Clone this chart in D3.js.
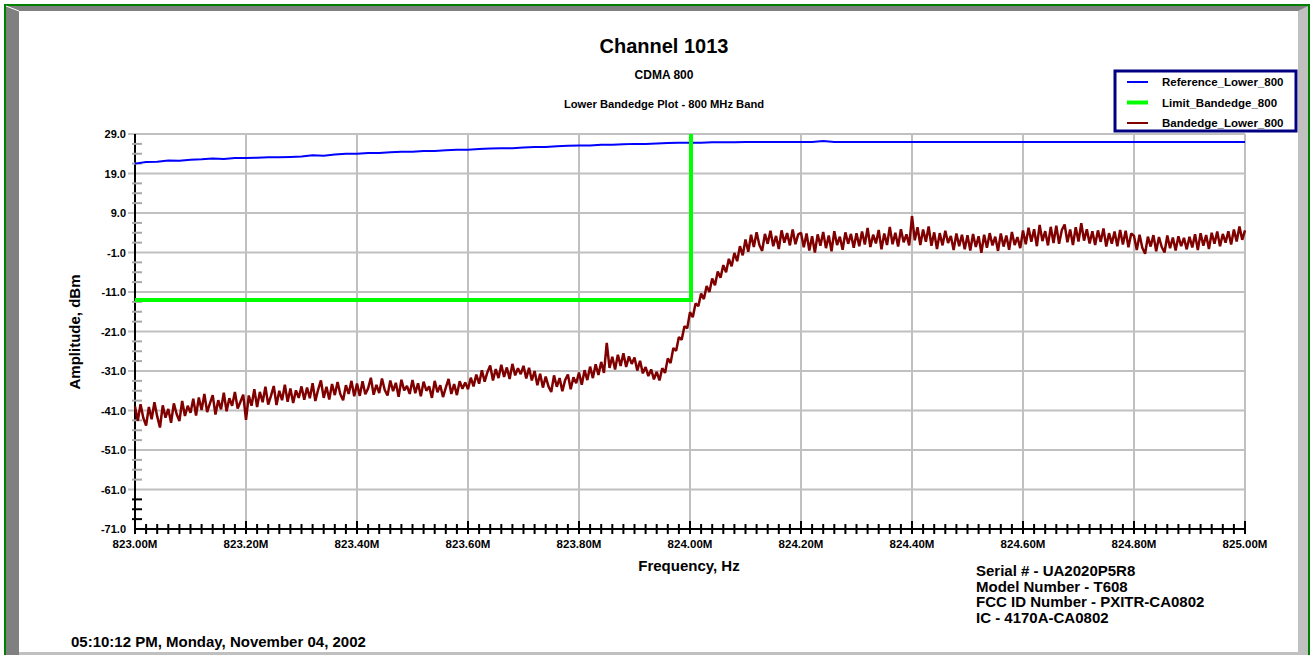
<!DOCTYPE html>
<html>
<head>
<meta charset="utf-8">
<script src="https://cdn.jsdelivr.net/npm/d3@7"></script>
<style>
body { margin: 0; background: #fff; }
svg { display: block; font-family: Arial, "Liberation Sans", sans-serif; font-weight: bold; }
</style>
</head>
<body>
<div class="content"></div>
<script>
// tick labels
var yTicks = [29, 19, 9, -1, -11, -21, -31, -41, -51, -61, -71];
var xTicks = [823.0, 823.2, 823.4, 823.6, 823.8, 824.0, 824.2, 824.4, 824.6, 824.8, 825.0];

// limit line (MHz, dBm)
var limitFreq = [823.0, 824.0, 824.0];
var limitLevel = [-13, -13, 29];

// reference trace, one reading every 0.02 MHz from 823.00
var refStep = 0.02;
var refLevel = [
  21.5, 21.9, 22.0, 22.3, 22.2, 22.5, 22.6, 22.8, 22.7, 22.9,
  22.9, 23.0, 23.1, 23.1, 23.2, 23.3, 23.6, 23.5, 23.8, 24.0,
  24.0, 24.2, 24.2, 24.4, 24.5, 24.5, 24.7, 24.7, 24.9, 25.0,
  25.0, 25.2, 25.3, 25.4, 25.4, 25.6, 25.7, 25.7, 25.9, 26.0,
  26.1, 26.1, 26.3, 26.3, 26.4, 26.5, 26.5, 26.6, 26.7, 26.8,
  26.8, 26.8, 26.9, 26.9, 26.9, 27.0, 27.0, 27.0, 27.0, 27.0,
  27.0, 27.0, 27.2, 27.0, 27.0, 27.0, 27.0, 27.0, 27.0, 27.0,
  27.0, 27.0, 27.0, 27.0, 27.0, 27.0, 27.0, 27.0, 27.0, 27.0,
  27.0, 27.0, 27.0, 27.0, 27.0, 27.0, 27.0, 27.0, 27.0, 27.0,
  27.0, 27.0, 27.0, 27.0, 27.0, 27.0, 27.0, 27.0, 27.0, 27.0,
  27.0
];

// bandedge trace, one reading every 0.005 MHz from 823.000
var bandStep = 0.005;
var bandLevel = [
  -40.0, -43.6, -39.4, -42.9, -44.8, -40.1, -43.2, -38.9, -42.5, -45.3, -39.7, -42.8, -40.6, -44.1, -39.2, -41.9, -43.7, -38.6, -42.4, -39.8,
  -41.6, -38.0, -42.3, -37.7, -40.9, -36.8, -41.4, -39.2, -37.1, -42.0, -38.4, -40.7, -36.5, -41.2, -37.9, -39.8, -36.3, -40.5, -38.8, -37.0,
  -43.4, -37.2, -39.8, -35.6, -40.1, -36.3, -38.9, -35.0, -39.5, -37.3, -34.8, -39.6, -36.0, -38.4, -34.5, -38.8, -35.4, -39.1, -35.9, -37.8,
  -34.9, -38.3, -35.2, -37.9, -34.1, -38.6, -35.7, -33.4, -37.8, -35.0, -38.2, -34.3, -37.1, -33.8, -36.9, -38.4, -34.6, -36.8, -33.5, -37.4,
  -34.2, -37.3, -33.6, -36.9, -35.4, -32.7, -37.0, -34.5, -36.6, -32.9, -35.8, -37.2, -33.4, -36.1, -34.0, -37.5, -33.2, -35.9, -34.8, -36.8,
  -33.3, -36.6, -34.1, -37.4, -33.7, -36.0, -34.9, -37.8, -33.5, -36.4, -34.6, -37.6, -35.2, -33.0, -36.8, -34.3, -37.1, -33.6, -35.5, -33.9,
  -35.6, -32.7, -34.9, -31.9, -34.2, -30.8, -33.7, -31.3, -29.6, -33.4, -30.5, -32.8, -29.4, -32.5, -30.1, -33.0, -29.2, -32.1, -30.3, -31.8,
  -29.7, -32.9, -30.2, -33.4, -31.0, -34.6, -31.7, -35.2, -32.4, -34.9, -36.3, -32.1, -35.0, -32.8, -36.1, -33.3, -31.9, -35.6, -32.6, -34.1,
  -31.4, -34.5, -30.8, -33.3, -29.9, -32.8, -29.3, -32.0, -28.7, -31.5, -23.9, -30.2, -27.4, -30.6, -26.9, -29.7, -26.5, -30.0, -27.3, -29.2,
  -27.6, -30.9, -28.4, -31.6, -30.0, -32.3, -30.6, -33.1, -31.2, -33.4, -30.3, -31.5, -27.8, -29.0, -25.2, -25.9, -22.4, -23.1, -19.7, -20.2,
  -16.1, -17.4, -13.9, -14.6, -11.4, -12.8, -9.5, -11.0, -7.6, -9.3, -5.8, -7.4, -4.2, -6.0, -2.6, -4.5, -1.1, -3.2, 0.6, -1.7,
  2.3, -0.8, 3.5, 0.4, 4.1, 0.9, -0.6, 3.7, 1.2, 4.5, 0.6, 3.2, -0.1, 4.6, 1.5, 3.9, 0.8, 4.8, 1.1, 3.6,
  4.0, 0.3, 3.8, -0.5, 3.1, -1.0, 3.6, 0.7, 4.2, 0.1, 3.3, -0.7, 4.4, 0.9, 3.0, -0.3, 4.1, 1.2, 3.7, 0.2,
  3.9, 0.6, 4.3, 1.0, 5.2, 0.4, 3.5, 1.3, 4.7, -0.2, 3.8, 0.9, 5.5, 1.1, 4.0, 0.5, 4.9, 1.6, 3.6, 0.8,
  8.2, 2.1, 5.4, 0.9, 4.8, 1.7, 5.6, 0.7, 4.1, -0.1, 3.9, 0.8, 4.5, 1.4, 3.2, -0.4, 3.8, 0.6, 3.5, -0.2,
  3.4, -0.5, 3.7, 0.4, 3.1, -1.1, 3.5, 0.2, 3.9, 0.8, 3.0, -0.6, 3.8, 0.5, 3.3, -0.3, 4.2, 0.9, 2.9, 0.1,
  4.6, 1.1, 5.3, 1.7, 4.9, 0.6, 6.0, 1.9, 4.4, 0.8, 5.5, 1.4, 5.8, 1.2, 4.7, 6.1, 1.6, 4.8, 0.9, 5.4,
  1.8, 6.4, 2.0, 4.9, 1.3, 4.4, 0.9, 4.6, 1.7, 5.1, 0.5, 3.9, 1.2, 4.3, 0.6, 4.7, 1.0, 4.5, 0.3, 3.8,
  3.2, -0.4, 3.5, 0.2, -1.3, 3.0, 0.5, 3.4, -0.7, 2.9, 0.4, -1.0, 3.3, 0.1, 2.8, -0.5, 3.1, 0.6, 2.7, -0.2,
  3.0, 0.3, 3.6, -0.4, 3.9, 0.7, 3.4, -0.1, 4.0, 1.2, 4.3, 0.6, 3.7, 1.5, 4.4, 1.0, 4.8, 1.8, 5.6, 2.2,
  4.6
];

var legendNames = ["Reference_Lower_800", "Limit_Bandedge_800", "Bandedge_Lower_800"];
var legendColors = ["#0000ff", "#00ff00", "#800000"];
var legendWidths = [2, 4, 2];

var infoLines = ["Serial # - UA2020P5R8", "Model Number - T608", "FCC ID Number - PXITR-CA0802", "IC - 4170A-CA0802"];

var W = 1312, H = 655;
var svg = d3.select(".content")
    .append("svg")
    .attr("width", W)
    .attr("height", H);

// frame: green border, gray bevel, white panel
svg.append("rect").attr("x", 0).attr("y", 0).attr("width", W).attr("height", H).attr("fill", "#fff");
svg.append("rect").attr("x", 5).attr("y", 5).attr("width", 1304).attr("height", 660)
    .attr("fill", "#c0c0c0").attr("stroke", "#008000").attr("stroke-width", 2);
svg.append("polygon").attr("points", "6,6 1308,6 1298,11 19,11").attr("fill", "#808080");
svg.append("polygon").attr("points", "6,6 19,11 19,656 6,656").attr("fill", "#808080");
svg.append("line").attr("x1", 6).attr("y1", 6).attr("x2", 19).attr("y2", 11).attr("stroke", "#fff").attr("stroke-width", 1);
svg.append("rect").attr("x", 19).attr("y", 11).attr("width", 1279).attr("height", 641).attr("fill", "#fff");

// scales
var x = d3.scaleLinear().domain([823, 825]).range([135, 1245]);
var y = d3.scaleLinear().domain([-71, 29]).range([529, 134]);

// grid
svg.append("g").selectAll("line")
    .data(yTicks.filter(function(d) { return d !== -71; }))
    .enter().append("line")
    .attr("x1", 128).attr("x2", x(825))
    .attr("y1", function(d) { return y(d); }).attr("y2", function(d) { return y(d); })
    .attr("stroke", "#c0c0c0").attr("stroke-width", 2);
svg.append("g").selectAll("line")
    .data(xTicks.filter(function(d) { return d !== 823.0; }))
    .enter().append("line")
    .attr("x1", function(d) { return x(d); }).attr("x2", function(d) { return x(d); })
    .attr("y1", y(29)).attr("y2", y(-71))
    .attr("stroke", "#c0c0c0").attr("stroke-width", 2);

// axes lines
svg.append("line").attr("x1", x(823)).attr("x2", x(823)).attr("y1", y(29)).attr("y2", y(-71))
    .attr("stroke", "#000").attr("stroke-width", 2);
svg.append("line").attr("x1", x(823)).attr("x2", x(825)).attr("y1", y(-71)).attr("y2", y(-71))
    .attr("stroke", "#000").attr("stroke-width", 2);

// y minor ticks every 2.5 dB
var yMinor = d3.range(-71, 29, 2.5).filter(function(d) { return Math.abs((d + 71) % 10) > 0.1; });
svg.append("g").selectAll("line")
    .data(yMinor)
    .enter().append("line")
    .attr("x1", 132).attr("x2", 142)
    .attr("y1", function(d) { return y(d); }).attr("y2", function(d) { return y(d); })
    .attr("stroke", function(d) { return d < -61 ? "#000" : "#a8a8a8"; })
    .attr("stroke-width", 2);

// x ticks every 0.02 MHz, crossing the axis
var xMinor = d3.range(0, 101).map(function(i) { return 823 + i * 0.02; });
svg.append("g").selectAll("line")
    .data(xMinor)
    .enter().append("line")
    .attr("x1", function(d) { return x(d); }).attr("x2", function(d) { return x(d); })
    .attr("y1", function(d, i) { return y(-71) - (i % 10 === 0 ? 8 : 5); })
    .attr("y2", y(-71) + 5)
    .attr("stroke", "#000").attr("stroke-width", 2);

// tick labels
svg.append("g").selectAll("text")
    .data(yTicks)
    .enter().append("text")
    .attr("x", 126).attr("y", function(d) { return y(d) + 4; })
    .attr("text-anchor", "end").attr("font-size", 11)
    .text(function(d) { return d.toFixed(1); });
svg.append("g").selectAll("text")
    .data(xTicks)
    .enter().append("text")
    .attr("x", function(d) { return x(d); }).attr("y", 548)
    .attr("text-anchor", "middle").attr("font-size", 11.5)
    .text(function(d) { return d.toFixed(2) + "M"; });

// traces
var refFreq = refLevel.map(function(v, i) { return 823 + i * refStep; });
var bandFreq = bandLevel.map(function(v, i) { return 823 + i * bandStep; });

svg.append("path")
    .datum(d3.zip(refFreq, refLevel))
    .attr("fill", "none").attr("stroke", "#0000ff").attr("stroke-width", 2)
    .attr("d", d3.line().x(function(d) { return x(d[0]); }).y(function(d) { return y(d[1]); }));

svg.append("path")
    .datum(d3.zip(bandFreq, bandLevel))
    .attr("fill", "none").attr("stroke", "#800000").attr("stroke-width", 2.5)
    .attr("stroke-linejoin", "bevel")
    .attr("d", d3.line().x(function(d) { return x(d[0]); }).y(function(d) { return y(d[1]); }));

svg.append("path")
    .datum(d3.zip(limitFreq, limitLevel))
    .attr("fill", "none").attr("stroke", "#00ff00").attr("stroke-width", 4)
    .attr("d", d3.line().x(function(d) { return x(d[0]) + (d[0] === 824 ? 1 : 0); }).y(function(d) { return y(d[1]); }));

// titles
svg.append("text").attr("x", 664).attr("y", 53).attr("text-anchor", "middle").attr("font-size", 20).text("Channel 1013");
svg.append("text").attr("x", 664).attr("y", 79).attr("text-anchor", "middle").attr("font-size", 12).text("CDMA 800");
svg.append("text").attr("x", 664).attr("y", 108).attr("text-anchor", "middle").attr("font-size", 11.2).text("Lower Bandedge Plot - 800 MHz Band");

// axis titles
svg.append("text").attr("x", 689).attr("y", 571).attr("text-anchor", "middle").attr("font-size", 15).text("Frequency, Hz");
svg.append("text").attr("transform", "translate(80,332) rotate(-90)").attr("text-anchor", "middle").attr("font-size", 15).text("Amplitude, dBm");

// legend
var legend = svg.append("g");
legend.append("rect").attr("x", 1115).attr("y", 71).attr("width", 181).attr("height", 60)
    .attr("fill", "#fff").attr("stroke", "#000080").attr("stroke-width", 3);
legend.selectAll("line.key")
    .data(legendNames)
    .enter().append("line")
    .attr("x1", 1127).attr("x2", 1148)
    .attr("y1", function(d, i) { return 82 + i * 20.5; }).attr("y2", function(d, i) { return 82 + i * 20.5; })
    .attr("stroke", function(d, i) { return legendColors[i]; })
    .attr("stroke-width", function(d, i) { return legendWidths[i]; });
legend.selectAll("text")
    .data(legendNames)
    .enter().append("text")
    .attr("x", 1162).attr("y", function(d, i) { return 86 + i * 20.5; })
    .attr("font-size", 11.5)
    .text(function(d) { return d; });

// device info
svg.append("g").selectAll("text")
    .data(infoLines)
    .enter().append("text")
    .attr("x", 976).attr("y", function(d, i) { return 576 + i * 15.7; })
    .attr("font-size", 15)
    .text(function(d) { return d; });

svg.append("text").attr("x", 71).attr("y", 647).attr("font-size", 15).text("05:10:12 PM, Monday, November 04, 2002");
</script>
</body>
</html>
